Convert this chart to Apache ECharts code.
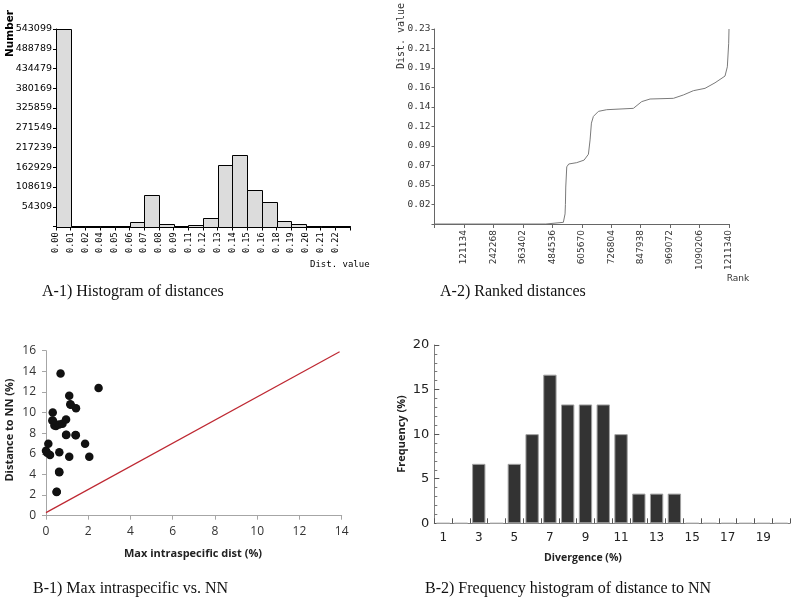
<!DOCTYPE html>
<html><head><meta charset="utf-8">
<script src="https://cdn.jsdelivr.net/npm/echarts@6/dist/echarts.min.js"></script>
<style>html,body{margin:0;padding:0;background:#fff}#c{width:794px;height:606px}</style>
</head><body><div id="c"></div>
<script>
// ---------- A-1) Histogram of distances ----------
const a1BinLabels = ['0.00','0.01','0.02','0.04','0.05','0.06','0.07','0.08','0.09','0.11','0.12','0.13','0.14','0.15','0.16','0.18','0.19','0.20','0.21','0.22'];
const a1Counts = [543099, 1500, 1200, 1200, 1500, 11800, 87100, 6000, 2000, 5000, 22900, 169800, 197400, 100900, 68600, 15400, 6000, 1500, 1000, 800];
const a1YTickLabels = ['54309','108619','162929','217239','271549','325859','380169','434479','488789','543099'];
const a1YStep = 54309.9;

// ---------- A-2) Ranked distances ----------
const a2Rank = [0, 458000, 460000, 530000, 533000, 537000, 538500, 539900, 544000, 552200, 585100, 615200, 633100, 639900, 645400, 653600, 674200, 708400, 818000, 852300, 886600, 982500, 1023600, 1064700, 1112700, 1153800, 1194900, 1204500, 1210000, 1211340];
const a2Dist = [0, 0, 0.002, 0.002, 0.004, 0.012, 0.023, 0.044, 0.068, 0.0714, 0.073, 0.076, 0.083, 0.100, 0.120, 0.128, 0.134, 0.136, 0.1376, 0.1456, 0.1487, 0.1495, 0.1535, 0.1586, 0.1614, 0.168, 0.176, 0.187, 0.215, 0.232];
const a2XTickLabels = ['121134','242268','363402','484536','605670','726804','847938','969072','1090206','1211340'];
const a2XStep = 121134;
const a2YTickLabels = ['0.02','0.05','0.07','0.09','0.12','0.14','0.16','0.19','0.21','0.23'];
const a2YStep = 0.0232;

// ---------- B-1) Max intraspecific vs. NN ----------
const b1MaxIntra = [0.51, 0.50, 0.63, 0.62, 1.10, 2.05, 0.19, 0.00, 0.05, 0.63, 0.11, 1.85, 0.95, 1.40, 0.96, 1.41, 0.47, 0.40, 0.62, 0.78, 0.30, 0.95, 0.33, 0.32, 1.17, 1.42, 1.15, 1.10, 2.49, 0.69];
const b1DistNN   = [2.33, 2.30, 4.21, 4.25, 5.72, 5.72, 5.89, 6.30, 6.10, 6.15, 6.98, 6.98, 7.82, 7.82, 7.85, 7.80, 8.69, 8.75, 8.85, 8.92, 9.24, 9.34, 9.20, 10.0, 10.76, 10.41, 10.80, 11.64, 12.38, 13.80];
const b1RefLineX = [0, 13.9];
const b1RefLineY = [0.3, 15.9];

// ---------- B-2) Frequency histogram of distance to NN ----------
const b2Divergence = ['1','2','3','4','5','6','7','8','9','10','11','12','13','14','15','16','17','18','19','20'];
const b2Frequency = [0, 0, 6.67, 0, 6.67, 10, 16.67, 13.33, 13.33, 13.33, 10, 3.33, 3.33, 3.33, 0, 0, 0, 0, 0, 0];

const chart = echarts.init(document.getElementById('c'), null, {renderer: 'canvas'});

const sans = '"DejaVu Sans"';
const mono = '"DejaVu Sans Mono"';
const calib = '"Open Sans"';
const serif = '"Liberation Serif"';

const option = {
  animation: false,
  backgroundColor: '#fff',
  grid: [
    {left: 56, top: 29, width: 294, height: 197.5, outerBoundsMode: 'none', containLabel: false},
    {left: 434.5, top: 29, width: 294.5, height: 195, outerBoundsMode: 'none', containLabel: false},
    {left: 46, top: 350.7, width: 295.7, height: 165, outerBoundsMode: 'none', containLabel: false},
    {left: 434.3, top: 345, width: 355.7, height: 178.3, outerBoundsMode: 'none', containLabel: false}
  ],
  xAxis: [
    { gridIndex: 0, type: 'value', min: 0, max: 20, interval: 1,
      axisLine: {show: true, lineStyle: {color: '#000', width: 1}},
      axisTick: {show: true, length: 4, lineStyle: {color: '#000'}},
      axisLabel: {rotate: 90, margin: 6, fontFamily: mono, fontSize: 8.5, color: '#000',
        showMaxLabel: true,
        formatter: v => a1BinLabels[Math.round(v)] || ''},
      splitLine: {show: false} },
    { gridIndex: 1, type: 'value', min: 0, max: 1211340, interval: a2XStep,
      axisLine: {show: true, lineStyle: {color: '#666', width: 1}},
      axisTick: {show: true, length: 4, lineStyle: {color: '#666'}},
      axisLabel: {rotate: 90, margin: 6, fontFamily: sans, fontSize: 9, color: '#333',
        showMaxLabel: true,
        formatter: v => { const i = Math.round(v / a2XStep); return i > 0 ? a2XTickLabels[i - 1] : ''; }},
      splitLine: {show: false} },
    { gridIndex: 2, type: 'value', min: 0, max: 14, interval: 2,
      axisLine: {show: true, lineStyle: {color: '#a6a6a6', width: 1}},
      axisTick: {show: true, length: 4, lineStyle: {color: '#a6a6a6'}},
      axisLabel: {margin: 10, fontFamily: calib, fontSize: 12, color: '#333'},
      splitLine: {show: false} },
    { gridIndex: 3, type: 'category', data: b2Divergence, boundaryGap: true,
      axisLine: {show: true, lineStyle: {color: '#808080', width: 1}},
      axisTick: {show: true, inside: true, length: 5, interval: 0, alignWithLabel: false, lineStyle: {color: '#555'}},
      axisLabel: {interval: 1, margin: 9, fontFamily: sans, fontSize: 12, color: '#222'},
      splitLine: {show: false} }
  ],
  yAxis: [
    { gridIndex: 0, type: 'value', min: 0, max: 543099, interval: a1YStep,
      axisLine: {show: true, lineStyle: {color: '#000', width: 1}},
      axisTick: {show: true, length: 3, lineStyle: {color: '#000'}},
      axisLabel: {margin: 4, fontFamily: sans, fontSize: 9.5, color: '#000',
        showMaxLabel: true,
        formatter: v => { const i = Math.round(v / a1YStep); return i > 0 ? a1YTickLabels[i - 1] : ''; }},
      splitLine: {show: false} },
    { gridIndex: 1, type: 'value', min: 0, max: 0.232, interval: a2YStep,
      axisLine: {show: true, lineStyle: {color: '#666', width: 1}},
      axisTick: {show: true, length: 3, lineStyle: {color: '#666'}},
      axisLabel: {margin: 4, fontFamily: mono, fontSize: 9.5, color: '#333',
        showMaxLabel: true,
        formatter: v => { const i = Math.round(v / a2YStep); return i > 0 ? a2YTickLabels[i - 1] : ''; }},
      splitLine: {show: false} },
    { gridIndex: 2, type: 'value', min: 0, max: 16, interval: 2,
      axisLine: {show: true, lineStyle: {color: '#a6a6a6', width: 1}},
      axisTick: {show: true, length: 4, lineStyle: {color: '#a6a6a6'}},
      axisLabel: {margin: 10, fontFamily: calib, fontSize: 12, color: '#333'},
      splitLine: {show: false} },
    { gridIndex: 3, type: 'value', min: 0, max: 20, interval: 5,
      axisLine: {show: true, lineStyle: {color: '#808080', width: 1}},
      axisTick: {show: true, inside: true, length: 5, lineStyle: {color: '#555'}},
      minorTick: {show: true, splitNumber: 5, length: 3, lineStyle: {color: '#777'}},
      axisLabel: {margin: 5, fontFamily: sans, fontSize: 13, color: '#222'},
      splitLine: {show: false} }
  ],
  series: [
    { type: 'custom', xAxisIndex: 0, yAxisIndex: 0,
      data: a1Counts.map((c, i) => [i, c]),
      encode: {x: 0, y: 1},
      renderItem: (params, api) => {
        const i = api.value(0), v = api.value(1);
        const p0 = api.coord([i, v]);
        const p1 = api.coord([i + 1, 0]);
        return {type: 'rect',
          shape: {x: Math.round(p0[0]) + 0.5, y: Math.round(p0[1]) + 0.5, width: Math.round(p1[0]) - Math.round(p0[0]), height: Math.round(p1[1]) - Math.round(p0[1])},
          style: {fill: '#dcdcdc', stroke: '#000', lineWidth: 1}};
      } },
    { type: 'line', xAxisIndex: 1, yAxisIndex: 1,
      data: a2Rank.map((r, i) => [r, a2Dist[i]]),
      showSymbol: false, symbol: 'none',
      lineStyle: {color: '#7a7a7a', width: 1}, z: 5 },
    { type: 'line', xAxisIndex: 2, yAxisIndex: 2,
      data: b1RefLineX.map((x, i) => [x, b1RefLineY[i]]),
      showSymbol: false, symbol: 'none',
      lineStyle: {color: '#be2832', width: 1.2} },
    { type: 'scatter', xAxisIndex: 2, yAxisIndex: 2,
      data: b1MaxIntra.map((x, i) => [x, b1DistNN[i]]),
      symbol: 'circle', symbolSize: 8.5,
      itemStyle: {color: '#111', opacity: 1} },
    { type: 'bar', xAxisIndex: 3, yAxisIndex: 3,
      data: b2Frequency,
      barCategoryGap: '25%',
      itemStyle: {color: '#333', borderColor: '#a0a0a0', borderWidth: 1} }
  ],
  graphic: [
    {type: 'text', x: 10, y: 33.5, rotation: Math.PI / 2,
      style: {text: 'Number', font: 'bold 10.5px ' + sans, fill: '#000', align: 'center', verticalAlign: 'middle'}},
    {type: 'text', x: 310, y: 265,
      style: {text: 'Dist. value', font: '9px ' + mono, fill: '#000', align: 'left', verticalAlign: 'middle'}},
    {type: 'text', x: 401.7, y: 36, rotation: Math.PI / 2,
      style: {text: 'Dist. value', font: '10px ' + mono, fill: '#333', align: 'center', verticalAlign: 'middle'}},
    {type: 'text', x: 738, y: 279,
      style: {text: 'Rank', font: '9px ' + sans, fill: '#333', align: 'center', verticalAlign: 'middle'}},
    {type: 'text', x: 10, y: 430, rotation: Math.PI / 2,
      style: {text: 'Distance to NN (%)', font: 'bold 11px ' + calib, fill: '#222', align: 'center', verticalAlign: 'middle'}},
    {type: 'text', x: 193, y: 554,
      style: {text: 'Max intraspecific dist (%)', font: 'bold 11px ' + calib, fill: '#222', align: 'center', verticalAlign: 'middle'}},
    {type: 'text', x: 402, y: 434, rotation: Math.PI / 2,
      style: {text: 'Frequency (%)', font: 'bold 11px ' + calib, fill: '#222', align: 'center', verticalAlign: 'middle'}},
    {type: 'text', x: 583, y: 558,
      style: {text: 'Divergence (%)', font: 'bold 10.5px ' + calib, fill: '#222', align: 'center', verticalAlign: 'middle'}},
    {type: 'text', x: 42, y: 292,
      style: {text: 'A-1) Histogram of distances', font: '16px ' + serif, fill: '#111', align: 'left', verticalAlign: 'middle'}},
    {type: 'text', x: 440, y: 292,
      style: {text: 'A-2) Ranked distances', font: '16px ' + serif, fill: '#111', align: 'left', verticalAlign: 'middle'}},
    {type: 'text', x: 33, y: 589,
      style: {text: 'B-1) Max intraspecific vs. NN', font: '16px ' + serif, fill: '#111', align: 'left', verticalAlign: 'middle'}},
    {type: 'text', x: 425, y: 589,
      style: {text: 'B-2) Frequency histogram of distance to NN', font: '16px ' + serif, fill: '#111', align: 'left', verticalAlign: 'middle'}}
  ]
};
chart.setOption(option);
</script>
</body></html>
